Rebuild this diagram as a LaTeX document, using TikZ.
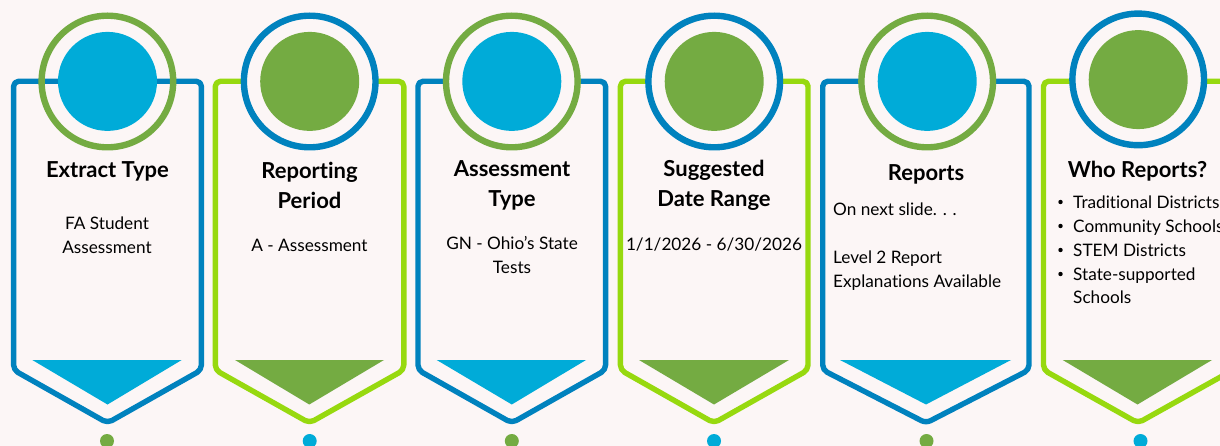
\documentclass[tikz,border=0pt]{standalone}
\usepackage{fontspec}
\setmainfont[Ligatures=NoCommon]{Lato}
\definecolor{bgc}{HTML}{FCF6F6}
\definecolor{bluel}{HTML}{0082BE}
\definecolor{limel}{HTML}{97D90F}
\definecolor{cyanf}{HTML}{00ABD8}
\definecolor{greenf}{HTML}{74AB42}
\tikzset{
  panelline/.style={line width=5.4pt,line join=round,rounded corners=5pt},
  ringc/.style={circle,draw,line width=6.4pt,minimum size=131.6pt,inner sep=0pt},
  discc/.style={circle,minimum size=99pt,inner sep=0pt},
  dotc/.style={circle,minimum size=14pt,inner sep=0pt},
  headt/.style={font=\fontsize{22}{30}\selectfont\bfseries,align=center,text=black},
  bodyt/.style={font=\fontsize{17.2}{24}\selectfont,align=center,text=black},
  bodyl/.style={font=\fontsize{17.2}{23.9}\selectfont,align=left,text=black,anchor=north west,inner sep=0pt},
}
\begin{document}
\begin{tikzpicture}[x=1pt,y=-1pt]
\useasboundingbox (0,0) rectangle (1220,446);
\fill[bgc] (0,0) rectangle (1220,446);
% panels
\draw[panelline,draw=bluel] (13.6,81.3) -- (201.4,81.3) -- (201.4,370) -- (107.5,423) -- (13.6,370) -- cycle;
\draw[panelline,draw=limel] (215.3,81.3) -- (403.8,81.3) -- (403.8,370) -- (309.5,423) -- (215.3,370) -- cycle;
\draw[panelline,draw=bluel] (418,81.3) -- (605.6,81.3) -- (605.6,370) -- (511.8,423) -- (418,370) -- cycle;
\draw[panelline,draw=limel] (620.4,81.3) -- (808,81.3) -- (808,370) -- (714,423) -- (620.4,370) -- cycle;
\draw[panelline,draw=bluel] (822.7,81.3) -- (1029,81.3) -- (1029,370) -- (926,423) -- (822.7,370) -- cycle;
\draw[panelline,draw=limel] (1043.5,81.3) -- (1233,81.3) -- (1233,370) -- (1138,423) -- (1043.5,370) -- cycle;
% triangles
\fill[cyanf] (32.3,360) -- (181.7,360) -- (107.5,404.5) -- cycle;
\fill[greenf] (235,360) -- (384,360) -- (309.3,404.5) -- cycle;
\fill[cyanf] (436.7,360) -- (586,360) -- (511.8,404.5) -- cycle;
\fill[greenf] (639,360) -- (789,360) -- (714,404.5) -- cycle;
\fill[cyanf] (840,360) -- (1011,360) -- (926,404.5) -- cycle;
\fill[greenf] (1062.7,360) -- (1212,360) -- (1137.5,404.5) -- cycle;
% rings and discs
\node[ringc,draw=greenf] (r1) at (107.4,81.5) {};
\node[discc,fill=cyanf] (d1) at (107.5,81.4) {};
\node[ringc,draw=bluel,fill=bgc] (r2) at (309.7,81.5) {};
\node[discc,fill=greenf] (d2) at (309.7,81.4) {};
\node[ringc,draw=greenf,fill=bgc] (r3) at (511.8,81.5) {};
\node[discc,fill=cyanf] (d3) at (511.8,81.4) {};
\node[ringc,draw=bluel,fill=bgc] (r4) at (714.2,81.5) {};
\node[discc,fill=greenf] (d4) at (714.2,81.4) {};
\node[ringc,draw=greenf,fill=bgc] (r5) at (927.2,81.5) {};
\node[discc,fill=cyanf] (d5) at (927.2,81.4) {};
\node[ringc,draw=bluel,fill=bgc] (r6) at (1138.2,79.4) {};
\node[discc,fill=greenf] (d6) at (1138.2,79.6) {};
% dots
\node[dotc,fill=greenf] (p1) at (107,441) {};
\node[dotc,fill=cyanf] (p2) at (309.7,441) {};
\node[dotc,fill=greenf] (p3) at (511.8,441) {};
\node[dotc,fill=cyanf] (p4) at (714,441) {};
\node[dotc,fill=greenf] (p5) at (926.5,441) {};
\node[dotc,fill=cyanf] (p6) at (1140.5,441) {};
% headings
\node[headt] (h1) at (107.5,171) {Extract Type};
\node[headt] (h2) at (309.5,185.3) {Reporting\\Period};
\node[headt] (h3) at (512,185.3) {Assessment\\Type};
\node[headt] (h4) at (714,185.3) {Suggested\\Date Range};
\node[headt] (h5) at (926,174) {Reports};
\node[headt] (h6) at (1137.5,171) {Who Reports?};
% bodies
\node[bodyt] (b1) at (107,235) {FA Student\\Assessment};
\node[bodyt] (b2) at (309.5,245) {A - Assessment};
\node[bodyt] (b3) at (512,255) {GN - Ohio’s State\\Tests};
\node[bodyt] (b4) at (714,244.5) {1/1/2026 - 6/30/2026};
\node[bodyl] (b5) at (833,203) {On next slide. . .\\[24pt]Level 2 Report\\Explanations Available};
\node[bodyl] (b6) at (1073,195.5) {Traditional Districts\\Community Schools\\STEM Districts\\State-supported\\Schools};
\foreach \yy/\nm in {202/a,226/b,250/c,274/d}{
  \node[circle,fill=black,minimum size=4.4pt,inner sep=0pt] (bu\nm) at (1060.5,\yy) {};
}
\end{tikzpicture}
\end{document}
